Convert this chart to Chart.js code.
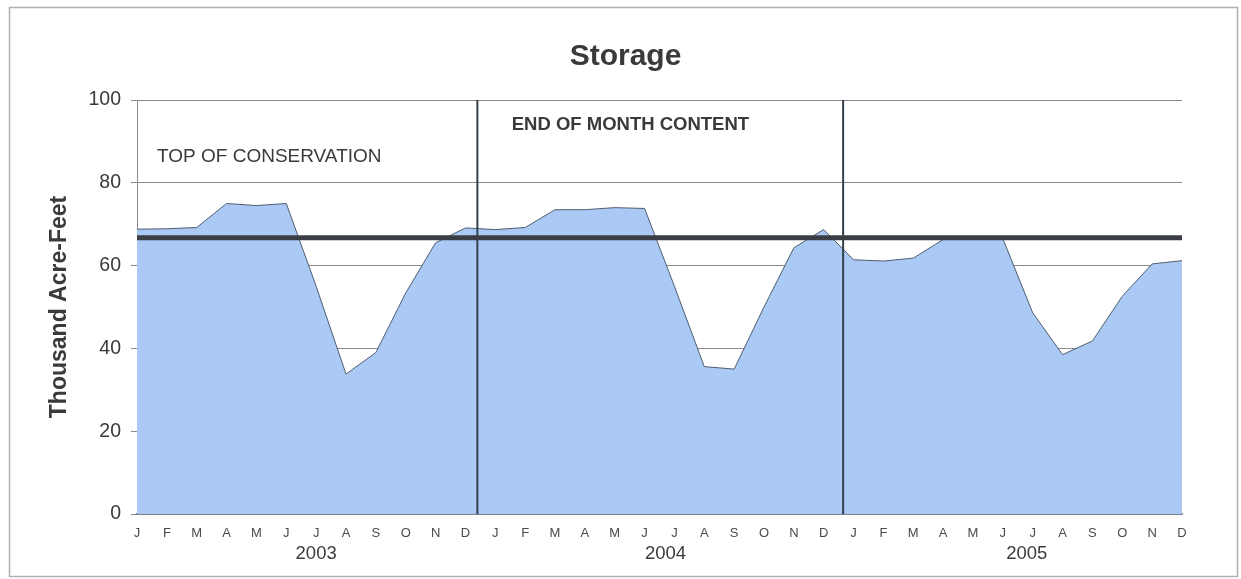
<!DOCTYPE html>
<html>
<head>
<meta charset="utf-8">
<title>Storage</title>
<script src="https://cdn.jsdelivr.net/npm/chart.js@4/dist/chart.umd.min.js"></script>
<style>
  html, body { margin: 0; padding: 0; background: #fff; }
  #wrap { width: 1241px; height: 579px; }
</style>
</head>
<body>
<div id="wrap"><canvas id="storageChart" width="1241" height="579"></canvas></div>
<script>
// valores (miles de acre-pies, contenido a fin de mes)
const years = ['2003', '2004', '2005'];
const monthLetters = ['J', 'F', 'M', 'A', 'M', 'J', 'J', 'A', 'S', 'O', 'N', 'D'];
const storage2003 = [68.8, 68.9, 69.2, 75.0, 74.5, 75.0, 55.0, 33.8, 39.0, 53.4, 65.5, 69.1];
const storage2004 = [68.7, 69.2, 73.5, 73.5, 74.0, 73.8, 55.0, 35.6, 35.0, 50.0, 64.3, 68.7];
const storage2005 = [61.4, 61.1, 61.8, 66.3, 66.5, 66.5, 48.6, 38.5, 41.8, 52.6, 60.4, 61.2];
const yTicks = [0, 20, 40, 60, 80, 100];
const topOfConservation = 66.7;
// separadores de año y posicion de las etiquetas de año (indice de mes)
const yearDividers = [11.4, 23.65];
const yearLabelPos = [6.0, 17.7, 29.8];

const FONT = '"Liberation Sans", Arial, sans-serif';
const TEXT = '#3a3a3a';

const labels = [];
years.forEach(() => monthLetters.forEach(m => labels.push(m)));
const storage = [].concat(storage2003, storage2004, storage2005);

// MARK: dibuja marco, titulos, linea de conservacion y separadores
const extras = {
  id: 'extras',
  beforeDraw(chart) {
    const c = chart.ctx;
    c.save();
    c.fillStyle = '#fff';
    c.fillRect(0, 0, chart.width, chart.height);
    c.strokeStyle = '#b0b0b0';
    c.lineWidth = 1.5;
    c.strokeRect(9.5, 7.5, 1228, 569);
    c.restore();
  },
  afterDatasetsDraw(chart) {
    const c = chart.ctx;
    const x = chart.scales.x, y = chart.scales.y;
    const area = chart.chartArea;
    c.save();

    // separadores verticales
    c.strokeStyle = '#33404d';
    c.lineWidth = 2;
    yearDividers.forEach(v => {
      const px = x.getPixelForValue(v);
      c.beginPath();
      c.moveTo(px, area.top);
      c.lineTo(px, area.bottom);
      c.stroke();
    });

    // top of conservation
    const ty = y.getPixelForValue(topOfConservation);
    c.strokeStyle = '#3a3e44';
    c.lineWidth = 5;
    c.beginPath();
    c.moveTo(area.left, ty);
    c.lineTo(area.right, ty);
    c.stroke();

    c.fillStyle = TEXT;
    c.textBaseline = 'middle';
    c.textAlign = 'left';
    c.font = '19px ' + FONT;
    c.fillText('TOP OF CONSERVATION', area.left + 20, y.getPixelForValue(86.3));
    c.font = 'bold 18.5px ' + FONT;
    c.fillText('END OF MONTH CONTENT', x.getPixelForValue(12.55), y.getPixelForValue(93.9));

    // titulo
    c.textAlign = 'center';
    c.textBaseline = 'alphabetic';
    c.font = 'bold 30px ' + FONT;
    c.fillText('Storage', 625.5, 65);

    // años
    c.font = '18.5px ' + FONT;
    c.textBaseline = 'middle';
    years.forEach((yr, i) => {
      c.fillText(yr, x.getPixelForValue(yearLabelPos[i]), 554);
    });

    // titulo eje y
    c.translate(60, (area.top + area.bottom) / 2);
    c.rotate(-Math.PI / 2);
    c.font = 'bold 23px ' + FONT;
    c.fillText('Thousand Acre-Feet', 0, 0);
    c.restore();
  }
};

const ctx = document.getElementById('storageChart').getContext('2d');
window.storageChart = new Chart(ctx, {
  type: 'line',
  data: {
    labels: labels,
    datasets: [{
      data: storage,
      fill: 'origin',
      backgroundColor: '#abc9f5',
      borderColor: '#4f5d70',
      borderWidth: 1,
      pointRadius: 0,
      tension: 0
    }]
  },
  options: {
    responsive: false,
    animation: false,
    layout: { padding: { left: 0, top: 100, right: 59, bottom: 0 } },
    plugins: {
      legend: { display: false },
      tooltip: { enabled: false },
      title: { display: false }
    },
    scales: {
      x: {
        offset: false,
        grid: { display: false, drawTicks: false },
        border: { display: true, color: '#6b7480', width: 1.5 },
        ticks: {
          autoSkip: false,
          maxRotation: 0,
          padding: 12,
          color: '#4a4a4a',
          font: { family: FONT, size: 13 }
        },
        afterFit: s => { s.height = 65; }
      },
      y: {
        min: 0,
        max: 100,
        afterBuildTicks: s => { s.ticks = yTicks.map(v => ({ value: v })); },
        grid: { color: '#8a8a8a', lineWidth: 1, tickLength: 6 },
        border: { display: true, color: '#8a8a8a' },
        ticks: {
          padding: 10,
          color: TEXT,
          font: { family: FONT, size: 19.5 }
        },
        afterFit: s => { s.width = 137; }
      }
    }
  },
  plugins: [extras]
});
</script>
</body>
</html>
